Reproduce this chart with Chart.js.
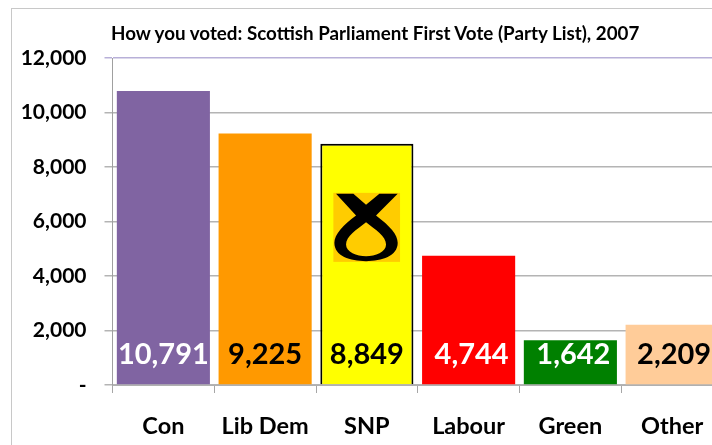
<!DOCTYPE html>
<html>
<head>
<meta charset="utf-8">
<style>
  html, body { margin: 0; padding: 0; background: #fff; width: 712px; height: 445px; overflow: hidden; }
  #frame { position: absolute; left: 11px; top: 8px; width: 760px; height: 500px; border: 1px solid #c8c8c8; box-sizing: border-box; }
  #title { position: absolute; left: 111px; top: 21px; font: bold 18.8px Lato, sans-serif; color: #000; white-space: nowrap; }
  #wrap { position: absolute; left: 0; top: 0; width: 760px; height: 445px; }
</style>
</head>
<body>
<div id="frame"></div>
<div id="wrap"><canvas id="chart" width="760" height="445"></canvas></div>
<div id="title">How you voted: Scottish Parliament First Vote (Party List), 2007</div>
<script src="https://cdn.jsdelivr.net/npm/chart.js@4"></script>
<script>
var parties = ['Con', 'Lib Dem', 'SNP', 'Labour', 'Green', 'Other'];
var votes = [10791, 9225, 8849, 4744, 1642, 2209];
var barColors = ['#8064a2', '#ff9900', '#ffff00', '#ff0000', '#008000', '#ffcc99'];
var labelColors = ['#ffffff', '#000000', '#000000', '#ffffff', '#ffffff', '#000000'];
var labelNudge = [0, 0, 0, 3, 3, 2];
var yTicks = ['-', '2,000', '4,000', '6,000', '8,000', '10,000', '12,000'];

// value labels sitting near the foot of each bar
var valueLabels = {
  id: 'valueLabels',
  afterDatasetsDraw: function(chart) {
    var ctx = chart.ctx;
    var bars = chart.getDatasetMeta(0).data;
    var base = chart.scales.y.getPixelForValue(0);
    ctx.save();
    ctx.font = 'bold 29px Lato, sans-serif';
    ctx.textAlign = 'center';
    ctx.textBaseline = 'middle';
    for (var i = 0; i < bars.length; i++) {
      ctx.fillStyle = labelColors[i];
      ctx.fillText(votes[i].toLocaleString('en-GB'), bars[i].x + labelNudge[i], base - 30);
    }
    ctx.restore();
  }
};

// party emblem on the SNP bar
var snpLogo = {
  id: 'snpLogo',
  afterDatasetsDraw: function(chart) {
    var bar = chart.getDatasetMeta(0).data[parties.indexOf('SNP')];
    var ctx = chart.ctx;
    ctx.save();
    ctx.translate(bar.x - 33.5, bar.y + 49);
    ctx.scale(1 / 3, 1 / 3);
    ctx.fillStyle = '#ffcc00';
    ctx.fillRect(0, 0, 200, 207);
    ctx.fillStyle = '#000';
    ctx.beginPath();
    ctx.moveTo(8, 3);
    ctx.lineTo(60, 3);
    ctx.lineTo(98, 36);
    ctx.lineTo(138, 3);
    ctx.lineTo(193, 3);
    ctx.lineTo(128, 68);
    ctx.bezierCurveTo(170, 100, 193, 125, 193, 150);
    ctx.bezierCurveTo(193, 190, 145, 205, 98, 205);
    ctx.bezierCurveTo(50, 205, 3, 190, 3, 150);
    ctx.bezierCurveTo(3, 125, 30, 95, 68, 68);
    ctx.closePath();
    ctx.moveTo(98, 88);
    ctx.bezierCurveTo(70, 110, 38, 130, 38, 155);
    ctx.bezierCurveTo(38, 178, 70, 190, 98, 190);
    ctx.bezierCurveTo(126, 190, 158, 178, 158, 155);
    ctx.bezierCurveTo(158, 130, 126, 110, 98, 88);
    ctx.closePath();
    ctx.fill('evenodd');
    ctx.restore();
  }
};

new Chart(document.getElementById('chart'), {
  type: 'bar',
  data: {
    labels: parties,
    datasets: [{
      data: votes,
      backgroundColor: barColors,
      borderColor: function(c) { return parties[c.dataIndex] === 'SNP' ? '#000000' : 'rgba(0,0,0,0)'; },
      borderWidth: function(c) { return parties[c.dataIndex] === 'SNP' ? 2 : 0; },
      barPercentage: 0.915,
      categoryPercentage: 1
    }]
  },
  options: {
    responsive: false,
    animation: false,
    layout: { padding: { left: 0, right: 37, top: 58, bottom: 0 } },
    plugins: { legend: { display: false }, tooltip: { enabled: false } },
    scales: {
      x: {
        afterFit: function(axis) { axis.height = 60; },
        grid: { color: '#a6a6a6', drawOnChartArea: false, tickLength: 8, offset: true },
        border: { color: '#b0b0b0', width: 1 },
        ticks: { color: '#000', padding: 19, maxRotation: 0, font: { family: 'Lato, sans-serif', weight: 'bold', size: 23.5 } }
      },
      y: {
        min: 0,
        max: 12000,
        afterFit: function(axis) { axis.width = 112.5; },
        grid: {
          color: function(c) { return c.tick.value === 12000 ? '#b8b0d8' : '#b4b4b4'; },
          tickLength: 8,
          lineWidth: 1.5
        },
        border: { color: '#a0a0a0', width: 1 },
        ticks: {
          stepSize: 2000,
          color: '#000',
          padding: 18,
          font: { family: 'Lato, sans-serif', weight: 'bold', size: 21 },
          callback: function(value) { return yTicks[value / 2000]; }
        }
      }
    }
  },
  plugins: [valueLabels, snpLogo]
});
</script>
</body>
</html>
